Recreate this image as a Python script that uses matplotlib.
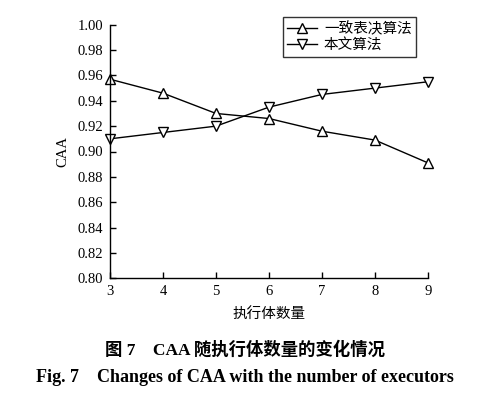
import matplotlib
matplotlib.use("Agg")
import matplotlib.pyplot as plt

executors = [3, 4, 5, 6, 7, 8, 9]
consensus = [0.957, 0.946, 0.930, 0.926, 0.916, 0.909, 0.891]
proposed = [0.910, 0.915, 0.920, 0.935, 0.945, 0.950, 0.955]
series_names = ["一致表决算法", "本文算法"]
yticks = [0.80, 0.82, 0.84, 0.86, 0.88, 0.90, 0.92, 0.94, 0.96, 0.98, 1.00]

serif = ["Liberation Serif", "Noto Sans CJK SC"]
cjk = ["Noto Sans CJK SC", "Liberation Serif"]
plt.rcParams["font.family"] = serif

fig = plt.figure(figsize=(4.9, 3.98), dpi=100)
ax = fig.add_axes([110/490, 1-278.3/398, (428-110)/490, (278.3-24.7)/398])

ax.plot(executors, consensus, color="black", lw=1.0, marker="^", ms=7,
        mfc="white", mec="black", mew=1.0, label=series_names[0], clip_on=False)
ax.plot(executors, proposed, color="black", lw=1.0, marker="v", ms=7,
        mfc="white", mec="black", mew=1.0, label=series_names[1], clip_on=False)

ax.set_xlim(3, 9)
ax.set_ylim(0.80, 1.00)
ax.set_xticks(executors)
ax.set_yticks(yticks)
ax.set_yticklabels([f"{v:.2f}" for v in yticks])
ax.tick_params(direction="in", length=4, width=1, labelsize=10.5, pad=5)
for s in ["top", "right"]:
    ax.spines[s].set_visible(False)
for s in ["left", "bottom"]:
    ax.spines[s].set_linewidth(1.0)

ax.set_xlabel("执行体数量", family=cjk, fontsize=10.5, labelpad=6)
ax.set_ylabel("CAA", fontsize=10.5, labelpad=6)

leg = ax.legend(loc="upper right", bbox_to_anchor=(416/490, 1-17/398),
                bbox_transform=fig.transFigure, prop={"family": cjk, "size": 10.5},
                frameon=True, fancybox=False, edgecolor="black",
                handlelength=2.0, borderpad=0.3, labelspacing=0.15,
                handletextpad=0.5, borderaxespad=0)
leg.get_frame().set_linewidth(1.0)

fig.text(245/490, 1-350/398, "图 7    CAA 随执行体数量的变化情况", family=serif,
         fontsize=12.5, fontweight="bold", ha="center", va="center")
fig.text(245/490, 1-378/398, "Fig. 7    Changes of CAA with the number of executors",
         family=serif, fontsize=13, fontweight="bold", ha="center", va="center")

fig.savefig("out.png", dpi=100)
